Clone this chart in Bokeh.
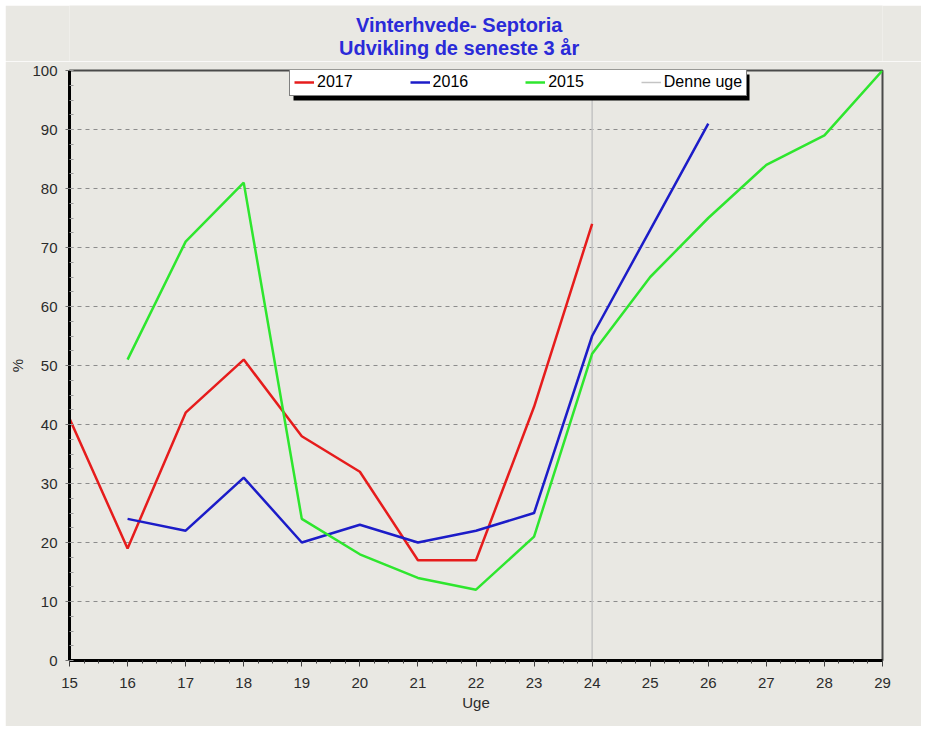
from bokeh.plotting import figure
from bokeh.layouts import column
from bokeh.models import (Range1d, SingleIntervalTicker, Legend, LegendItem,
                          BoxAnnotation, Label)
from bokeh.embed import file_html
from bokeh.resources import INLINE

# ---------------- data ----------------
weeks_2017 = [15, 16, 17, 18, 19, 20, 21, 22, 23, 24]
values_2017 = [41, 19, 42, 51, 38, 32, 17, 17, 43, 74]

weeks_2016 = [16, 17, 18, 19, 20, 21, 22, 23, 24, 25, 26]
values_2016 = [24, 22, 31, 20, 23, 20, 22, 25, 55, 73, 91]

weeks_2015 = [16, 17, 18, 19, 20, 21, 22, 23, 24, 25, 26, 27, 28, 29]
values_2015 = [51, 71, 81, 24, 18, 14, 12, 21, 52, 65, 75, 84, 89, 100]

current_week = 24
series_labels = ["2017", "2016", "2015"]
current_label = "Denne uge"
title_line1 = "Vinterhvede- Septoria"
title_line2 = "Udvikling de seneste 3 år"
x_label = "Uge"
y_label = "%"
x_min, x_max = 15, 29
y_min, y_max = 0, 100

# ---------------- layout / styling ----------------
BG = "#e9e8e3"
FONT = "Liberation Sans"
TXT = "#2b2b2b"

OFF = 5                       # white page border around the grey panel
W = 916
TH = 56                       # height of the title strip
H = 665                       # height of the chart figure
BL, BR, BT, BB = 64, 39, 9, 66
FW = W - BL - BR              # frame width in px
FH = H - BT - BB              # frame height in px
FRAME_LEFT = OFF + BL
FRAME_TOP = OFF + TH + BT


def sx_to_x(sx):
    return x_min + (sx - FRAME_LEFT) * (x_max - x_min) / FW


def sy_to_y(sy):
    return y_max - (sy - FRAME_TOP) * (y_max - y_min) / FH


# ---------------- title strip ----------------
tf = figure(width=W, height=TH, output_backend="svg", toolbar_location=None,
            x_range=Range1d(0, W), y_range=Range1d(TH, 0),
            x_axis_type=None, y_axis_type=None,
            min_border=0, title=None)
tf.grid.visible = False
tf.outline_line_color = None
tf.background_fill_color = BG
tf.border_fill_color = BG
title_cx = 444 - OFF
for txt, mid in ((title_line1, 24 - OFF), (title_line2, 47.5 - OFF)):
    tf.add_layout(Label(x=title_cx, y=mid, text=txt,
                        text_align="center", text_baseline="middle",
                        text_font=FONT, text_font_size="20px",
                        text_font_style="bold", text_color="#2a2ad8"))

# ---------------- chart ----------------
p = figure(width=W, height=H, output_backend="svg", toolbar_location=None,
           x_range=Range1d(x_min, x_max), y_range=Range1d(y_min, y_max),
           min_border_left=BL, min_border_right=BR, min_border_top=BT,
           min_border_bottom=BB, title=None)
p.background_fill_color = BG
p.border_fill_color = BG
p.outline_line_color = "#4a4a4a"
p.outline_line_width = 2

# axes
p.xaxis.ticker = SingleIntervalTicker(interval=1, num_minor_ticks=4)
p.yaxis.ticker = SingleIntervalTicker(interval=10, num_minor_ticks=4)
for ax in (p.xaxis, p.yaxis):
    ax.axis_line_color = "black"
    ax.axis_line_width = 3
    ax.major_label_text_font = FONT
    ax.major_label_text_font_size = "15px"
    ax.major_label_text_color = TXT
    ax.axis_label_text_font = FONT
    ax.axis_label_text_font_size = "15px"
    ax.axis_label_text_font_style = "normal"
    ax.axis_label_text_color = TXT

p.xaxis.axis_label = x_label
p.xaxis.major_tick_out = 6
p.xaxis.major_tick_in = 0
p.xaxis.minor_tick_out = 3
p.xaxis.minor_tick_in = 0
p.xaxis.major_tick_line_color = "#404040"
p.xaxis.minor_tick_line_color = "#404040"
p.xaxis.major_label_standoff = 11
p.xaxis.axis_label_standoff = 3

p.yaxis.axis_label = y_label
p.yaxis.major_tick_out = 4
p.yaxis.major_tick_in = 0
p.yaxis.minor_tick_out = 0
p.yaxis.minor_tick_in = 4
p.yaxis.major_tick_line_color = "#707070"
p.yaxis.minor_tick_line_color = "#9a9a9a"
p.yaxis.major_label_standoff = 8
p.yaxis.axis_label_standoff = 3

# grid
p.xgrid.grid_line_color = None
p.ygrid.grid_line_color = "#8c8c8c"
p.ygrid.grid_line_dash = "4 4"
p.ygrid.grid_line_width = 1

# current week line
week_line = p.line(x=[current_week, current_week], y=[y_min, y_max],
                   line_color="#c4c4c4", line_width=1.5)

# series
r17 = p.line(weeks_2017, values_2017, line_color="#e61c1c", line_width=2.5)
r16 = p.line(weeks_2016, values_2016, line_color="#1c1cc8", line_width=2.5)
r15 = p.line(weeks_2015, values_2015, line_color="#2ee62e", line_width=2.5)

# legend box in page px
LEG_L, LEG_T, LEG_W, LEG_H = 289, 70, 456, 26
SH = 4
shadow = BoxAnnotation(left=sx_to_x(LEG_L + SH), right=sx_to_x(LEG_L + LEG_W + SH),
                       top=sy_to_y(LEG_T + SH), bottom=sy_to_y(LEG_T + LEG_H + SH),
                       fill_color="black", fill_alpha=1, line_color=None)
p.add_layout(shadow)

legend = Legend(items=[LegendItem(label=series_labels[0], renderers=[r17]),
                       LegendItem(label=series_labels[1], renderers=[r16]),
                       LegendItem(label=series_labels[2], renderers=[r15]),
                       LegendItem(label=current_label, renderers=[week_line])],
                orientation="horizontal",
                location=(LEG_L - FRAME_LEFT, FH - (LEG_T - FRAME_TOP) - LEG_H),
                padding=4, spacing=57, margin=0,
                glyph_width=20, glyph_height=14, label_standoff=3,
                label_height=14,
                label_text_font=FONT, label_text_font_size="16px",
                label_text_color="black",
                border_line_color="black", border_line_width=1,
                background_fill_color="white", background_fill_alpha=1)
p.add_layout(legend, "center")

layout = column(tf, p, spacing=0, margin=(OFF, OFF, OFF, OFF))
open("out.html", "w").write(file_html(layout, INLINE))
